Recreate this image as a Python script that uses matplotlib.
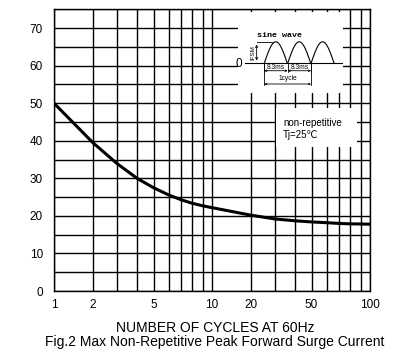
import numpy as np
import matplotlib
matplotlib.use("Agg")
import matplotlib.pyplot as plt

plt.rcParams['font.family'] = ['Liberation Sans', 'DejaVu Sans']

# (cycles @60Hz vs peak forward surge current, A)
cycles = [1, 2, 3, 4, 5, 6, 7, 8, 9, 10, 20, 30, 40, 50, 60, 70, 80, 90, 100]
ifsm = [50, 39.5, 34.0, 30.0, 27.5, 25.6, 24.3, 23.4, 22.7, 22.2,
        20.2, 19.2, 18.7, 18.4, 18.2, 18.0, 17.9, 17.85, 17.8]

x_labels = [1, 2, 5, 10, 20, 50, 100]
y_ticks = [0, 10, 20, 30, 40, 50, 60, 70]

# the printed log paper is not a true log scale, gridlines sit here inside one decade
mant = [1, 2, 3, 4, 5, 6, 7, 8, 9, 10]
mant_pos = [0, 0.246, 0.397, 0.526, 0.630, 0.725, 0.805, 0.872, 0.94, 1.0]


def fwd(x):
    x = np.clip(np.asarray(x, float), 1e-3, None)
    d = np.floor(np.log10(x) + 1e-9)
    m = x / 10 ** d
    return d + np.interp(m, mant, mant_pos)


def inv(p):
    p = np.asarray(p, float)
    d = np.floor(p)
    return np.interp(p - d, mant_pos, mant) * 10 ** d


fig = plt.figure(figsize=(4.11, 3.58), dpi=100)
ax = fig.add_axes([0.1314, 0.187, 0.7688, 0.787])
ax.set_xscale('function', functions=(fwd, inv))
ax.set_xlim(1, 100)
ax.set_ylim(0, 75)

grid_x = [1, 2, 3, 4, 5, 6, 7, 8, 9, 10, 20, 30, 40, 50, 60, 70, 80, 90, 100]
ax.set_xticks(grid_x)
ax.set_xticklabels([str(v) if v in x_labels else '' for v in grid_x])
ax.set_xticks([], minor=True)
ax.set_yticks(np.arange(0, 76, 5))
ax.set_yticklabels([str(v) if v in y_ticks else '' for v in range(0, 76, 5)])
ax.tick_params(length=0, labelsize=8.5)
ax.tick_params(axis='x', pad=6)
ax.tick_params(axis='y', pad=8)
ax.grid(True, color='black', lw=1.0)
for s in ax.spines.values():
    s.set_linewidth(1.0)

ax.plot(cycles, ifsm, color='black', lw=2.2, solid_capstyle='round',
        solid_joinstyle='round', zorder=5)

fig.text(0.523, 0.083, 'NUMBER OF CYCLES AT 60Hz', ha='center', va='center', fontsize=10)
fig.text(0.522, 0.044, 'Fig.2 Max Non-Repetitive Peak Forward Surge Current',
         ha='center', va='center', fontsize=10)

# sine wave sketch
ins = ax.inset_axes([0.582, 0.703, 0.333, 0.287])
ins.set_xlim(238, 343)
ins.set_ylim(93, 12)
ins.set_xticks([])
ins.set_yticks([])
for s in ins.spines.values():
    s.set_visible(False)
ins.set_facecolor('white')

starts = [264.3, 287.7, 311.0]
width = 23.0
base, peak = 63.3, 41.7
for x0 in starts:
    t = np.linspace(0, np.pi, 40)
    ins.plot(x0 + t / np.pi * width, base - (base - peak) * np.sin(t), color='black', lw=0.8)
ins.plot([245, 343], [base, base], color='black', lw=0.8)
ins.text(238.5, 64, '0', ha='center', va='center', fontsize=8.5)
ins.text(280, 35.5, 'sine wave', family='Liberation Mono', fontweight='bold',
         ha='center', va='center', fontsize=6)
ins.plot([256.7, 271.7], [peak, peak], color='black', lw=0.6)
ins.annotate('', xy=(256.7, peak), xytext=(256.7, base),
             arrowprops=dict(arrowstyle='<->', lw=0.6, mutation_scale=4))
ins.text(253.3, 53, 'IFSM', rotation=90, ha='center', va='center', fontsize=4.5)
for x0 in starts:
    ins.plot([x0, x0], [base, 72], color='black', lw=0.6)
for x0 in [starts[0], starts[2]]:
    ins.plot([x0, x0], [base, 85], color='black', lw=0.6)
ins.annotate('', xy=(starts[0], 70.7), xytext=(starts[1], 70.7),
             arrowprops=dict(arrowstyle='<->', lw=0.6, mutation_scale=3, shrinkA=0, shrinkB=0))
ins.annotate('', xy=(starts[1], 70.7), xytext=(starts[2], 70.7),
             arrowprops=dict(arrowstyle='<->', lw=0.6, mutation_scale=3, shrinkA=0, shrinkB=0))
ins.annotate('', xy=(starts[0], 84), xytext=(starts[2], 84),
             arrowprops=dict(arrowstyle='<->', lw=0.6, mutation_scale=3, shrinkA=0, shrinkB=0))
ins.text(276, 67.3, '8.3ms', ha='center', va='center', fontsize=4.8)
ins.text(299.3, 67.3, '8.3ms', ha='center', va='center', fontsize=4.8)
ins.text(287.7, 78.3, '1cycle', ha='center', va='center', fontsize=4.8)

# condition box
box = ax.inset_axes([0.702, 0.511, 0.257, 0.139])
box.set_xticks([])
box.set_yticks([])
for s in box.spines.values():
    s.set_visible(False)
box.set_facecolor('white')
box.text(0.09, 0.62, 'non-repetitive', fontsize=7, va='center', transform=box.transAxes)
box.text(0.09, 0.3, 'Tj=25℃', fontsize=7, va='center', transform=box.transAxes)

fig.savefig('out.png', dpi=100)
